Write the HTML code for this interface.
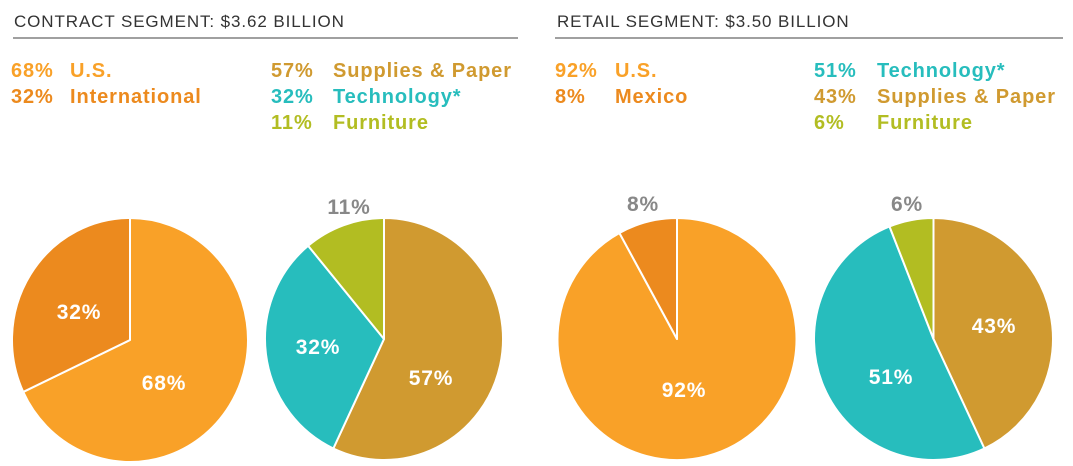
<!DOCTYPE html>
<html><head><meta charset="utf-8"><style>
html,body{margin:0;padding:0;background:#fff;width:1073px;height:466px;overflow:hidden}
svg{display:block}
text{font-family:"Liberation Sans",Arial,sans-serif}
.h{font-size:17px;fill:#333;letter-spacing:0.9px}
.l{font-size:20px;font-weight:bold;letter-spacing:0.9px}
.in{font-size:21px;font-weight:bold;fill:#fff;letter-spacing:0.8px}
.out{font-size:21px;font-weight:bold;fill:#888;letter-spacing:0.8px}
</style></head><body>
<svg id="s" width="1073" height="466" viewBox="0 0 1073 466">
<text class="h" x="14" y="27">CONTRACT SEGMENT: $3.62 BILLION</text>
<rect x="13" y="37" width="505" height="2" fill="#a0a0a0"/>
<text class="h" x="557" y="27">RETAIL SEGMENT: $3.50 BILLION</text>
<rect x="555" y="37" width="508" height="2" fill="#a0a0a0"/>

<g class="l">
<text x="11" y="77" fill="#f9a128">68%</text><text x="70" y="77" fill="#f9a128">U.S.</text>
<text x="11" y="103" fill="#ec8a1e">32%</text><text x="70" y="103" fill="#ec8a1e">International</text>
<text x="271" y="77" fill="#d09a30">57%</text><text x="333" y="77" fill="#d09a30">Supplies &amp; Paper</text>
<text x="271" y="103" fill="#27bdbd">32%</text><text x="333" y="103" fill="#27bdbd">Technology*</text>
<text x="271" y="129" fill="#b2bd22">11%</text><text x="333" y="129" fill="#b2bd22">Furniture</text>

<text x="555" y="77" fill="#f9a128">92%</text><text x="615" y="77" fill="#f9a128">U.S.</text>
<text x="555" y="103" fill="#ec8a1e">8%</text><text x="615" y="103" fill="#ec8a1e">Mexico</text>
<text x="814" y="77" fill="#27bdbd">51%</text><text x="877" y="77" fill="#27bdbd">Technology*</text>
<text x="814" y="103" fill="#d09a30">43%</text><text x="877" y="103" fill="#d09a30">Supplies &amp; Paper</text>
<text x="814" y="129" fill="#b2bd22">6%</text><text x="877" y="129" fill="#b2bd22">Furniture</text>
</g>
<g id="pies"></g>
<g text-anchor="middle">
<text class="in" x="79" y="319">32%</text>
<text class="in" x="164" y="390">68%</text>
<text class="in" x="318" y="354">32%</text>
<text class="in" x="431" y="385">57%</text>
<text class="out" x="349" y="214">11%</text>
<text class="in" x="684" y="397">92%</text>
<text class="out" x="643" y="211">8%</text>
<text class="in" x="891" y="384">51%</text>
<text class="in" x="994" y="333">43%</text>
<text class="out" x="907" y="211">6%</text>
</g>
</svg>
<script>
var pies=[
 {cx:130,cy:340,rx:118,ry:122,s:[[0.68,"#f9a128"],[0.32,"#ec8a1e"]]},
 {cx:384,cy:339,rx:119,ry:121,s:[[0.57,"#d09a30"],[0.32,"#27bdbd"],[0.11,"#b2bd22"]]},
 {cx:677,cy:339,rx:119.5,ry:121,s:[[0.92,"#f9a128"],[0.08,"#ec8a1e"]]},
 {cx:933.5,cy:339,rx:119.5,ry:121,s:[[0.43,"#d09a30"],[0.51,"#27bdbd"],[0.06,"#b2bd22"]]}
];
var g=document.getElementById("pies"),h="";
pies.forEach(function(p){
 var a=0;
 p.s.forEach(function(sl){
  var a0=a,a1=a+sl[0]*2*Math.PI;a=a1;
  var x0=p.cx+p.rx*Math.sin(a0),y0=p.cy-p.ry*Math.cos(a0);
  var x1=p.cx+p.rx*Math.sin(a1),y1=p.cy-p.ry*Math.cos(a1);
  var large=(a1-a0)>Math.PI?1:0;
  h+='<path d="M'+p.cx+' '+p.cy+' L'+x0+' '+y0+' A'+p.rx+' '+p.ry+' 0 '+large+' 1 '+x1+' '+y1+' Z" fill="'+sl[1]+'" stroke="#fff" stroke-width="2" stroke-linejoin="round"/>';
 });
});
g.innerHTML=h;
</script>
</body></html>
